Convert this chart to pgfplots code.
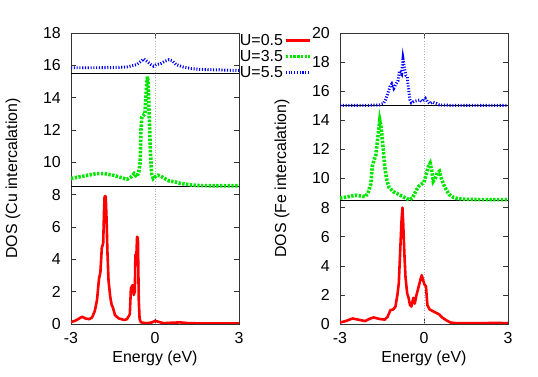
\documentclass[border=0pt]{standalone}
\usepackage{fontspec}
\setmainfont{Liberation Sans}
\usepackage{pgfplots}
\pgfplotsset{compat=1.18}

\newcommand\bigf{\fontsize{16}{19}\selectfont}

\definecolor{gpred}{RGB}{255,0,0}
\definecolor{gpgreen}{RGB}{0,230,0}
\definecolor{gpblue}{RGB}{0,0,255}

\pgfplotsset{
  dospanel/.style={
    scale only axis, width=168bp, height=291bp,
    anchor=south west,
    xmin=-3, xmax=3, ymin=0,
    xtick={-3,0,3}, xticklabels={-3,0,3},
    /pgf/number format/assume math mode=true,
    tick label style={font=\bigf, inner sep=0pt},
    xticklabel style={yshift=-8pt},
    yticklabel style={xshift=-10pt},
    label style={font=\bigf, inner sep=0pt},
    xlabel={Energy (eV)},
    xlabel style={at={(axis description cs:0.5,-0.093)}, anchor=north},
    ylabel style={at={(axis description cs:-0.345,0.5)}, anchor=center},
    axis line style={black!80, line width=0.8pt},
    major tick length=5pt,
    tick style={black!80, line width=0.6pt},
    clip=true,
  },
  r05/.style={gpred, line width=2.6pt, line join=round},
  g35/.style={gpgreen, line width=3.6pt, dash pattern=on 2.4pt off 1.4pt},
  b55/.style={gpblue, line width=3pt, dash pattern=on 1.1pt off 1.7pt},
  sep/.style={black, line width=0.7pt, forget plot},
  zero/.style={gray!60, dotted, line width=0.6pt, forget plot},
}

\begin{document}
\begin{tikzpicture}

% left panel: Cu intercalation
\begin{axis}[dospanel, at={(71bp,53bp)},
    ymax=18, ytick={0,2,...,18},
    ylabel={DOS (Cu intercalation)},
    legend plot pos=right,
    legend image code/.code={\draw[#1] (0cm,0cm) -- (0.85cm,0cm);},
    legend style={draw=none, fill=none, at={(1,1)}, anchor=north west,
      inner sep=0pt, outer sep=0pt, row sep=1.5pt,
      nodes={inner sep=1pt, font=\bigf},
      /tikz/every even column/.append style={column sep=3pt}},
  ]
  \addplot[zero] coordinates {(0,0) (0,18)};
  \addplot[sep] coordinates {(-3,8.5) (3,8.5)};
  \addplot[sep] coordinates {(-3,15.5) (3,15.5)};

  \addplot[r05] coordinates {
    (-3,0.12) (-2.85,0.2) (-2.7,0.35) (-2.6,0.45) (-2.5,0.35) (-2.35,0.3)
    (-2.25,0.4) (-2.15,0.8) (-2.07,1.5) (-2.0,2.8) (-1.95,3.2) (-1.9,4.7)
    (-1.85,5.0) (-1.82,7.0) (-1.8,7.9) (-1.76,7.9) (-1.73,6.5) (-1.7,4.5)
    (-1.66,2.7) (-1.6,1.7) (-1.55,1.2) (-1.5,1.0) (-1.43,0.55) (-1.3,0.35)
    (-1.1,0.25) (-1.0,0.3) (-0.9,0.6) (-0.86,2.2) (-0.8,2.4) (-0.76,1.8)
    (-0.72,2.0) (-0.7,4.3) (-0.67,4.0) (-0.64,5.4) (-0.61,5.3) (-0.58,1.5)
    (-0.55,0.3) (-0.5,0.1) (-0.3,0.05) (-0.1,0.1) (0,0.2) (0.1,0.15)
    (0.3,0.05) (0.6,0.08) (0.9,0.1) (1.2,0.05) (2,0.03) (3,0.03)};
  \addlegendentry{U=0.5}

  \addplot[g35] coordinates {
    (-3,9.0) (-2.7,9.1) (-2.4,9.2) (-2.1,9.3) (-1.8,9.3) (-1.5,9.2)
    (-1.2,9.05) (-1.0,8.95) (-0.85,9.1) (-0.75,9.3) (-0.65,9.1) (-0.58,9.4)
    (-0.53,10.0) (-0.5,12.0) (-0.47,12.8) (-0.42,12.9) (-0.36,13.0)
    (-0.31,14.5) (-0.27,15.3) (-0.24,14.8) (-0.2,12.5) (-0.16,10.5)
    (-0.12,9.3) (-0.06,9.0) (0.0,9.1) (0.1,9.2) (0.2,9.15) (0.3,9.05)
    (0.4,8.95) (0.5,8.85) (0.7,8.8) (0.9,8.7) (1.1,8.65) (1.3,8.6)
    (1.6,8.56) (2,8.55) (3,8.55)};
  \addlegendentry{U=3.5}

  \addplot[b55] coordinates {
    (-3,15.85) (-2,15.85) (-1.3,15.87) (-1.0,15.9) (-0.8,15.98) (-0.65,16.05)
    (-0.5,16.25) (-0.4,16.4) (-0.33,16.3) (-0.25,16.2) (-0.15,16.05)
    (-0.05,15.95) (0.05,16.05) (0.2,16.1) (0.35,16.25) (0.5,16.35)
    (0.6,16.3) (0.75,16.05) (1.0,15.9) (1.3,15.8) (1.6,15.75) (2.2,15.72)
    (3,15.68)};
  \addlegendentry{U=5.5}
\end{axis}

% right panel: Fe intercalation
\begin{axis}[dospanel, at={(340bp,53bp)},
    ymax=20, ytick={0,2,...,20},
    ylabel={DOS (Fe intercalation)},
  ]
  \addplot[zero] coordinates {(0,0) (0,20)};
  \addplot[sep] coordinates {(-3,8.5) (3,8.5)};
  \addplot[sep] coordinates {(-3,15) (3,15)};

  \addplot[r05] coordinates {
    (-3,0.1) (-2.8,0.2) (-2.55,0.38) (-2.35,0.3) (-2.1,0.2) (-1.95,0.35)
    (-1.8,0.45) (-1.6,0.35) (-1.4,0.3) (-1.3,0.5) (-1.2,0.95) (-1.1,1.0)
    (-1.02,1.2) (-0.95,2.0) (-0.9,2.8) (-0.85,5.0) (-0.8,7.2) (-0.77,8.0)
    (-0.74,6.8) (-0.7,4.8) (-0.66,3.2) (-0.6,2.1) (-0.55,1.8) (-0.5,1.3)
    (-0.45,1.2) (-0.38,1.8) (-0.33,1.4) (-0.28,1.9) (-0.2,2.5) (-0.12,3.1)
    (-0.08,3.35) (-0.03,3.0) (0.02,2.7) (0.07,2.6) (0.12,1.3) (0.2,1.0)
    (0.3,0.9) (0.45,0.75) (0.55,0.65) (0.65,0.45) (0.8,0.25) (0.95,0.1)
    (1.2,0.05) (2,0.05) (2.6,0.08) (3,0.05)};

  \addplot[g35] coordinates {
    (-3,8.65) (-2.7,8.75) (-2.45,8.85) (-2.25,8.8) (-2.1,8.75) (-2.0,9.0)
    (-1.9,9.6) (-1.85,10.8) (-1.78,11.3) (-1.72,11.6) (-1.65,12.8)
    (-1.58,14.0) (-1.53,13.5) (-1.47,12.3) (-1.4,10.8) (-1.33,9.9)
    (-1.25,9.4) (-1.1,9.1) (-0.95,8.95) (-0.8,8.8) (-0.6,8.6) (-0.5,8.55)
    (-0.4,8.7) (-0.3,9.1) (-0.2,9.45) (-0.1,9.6) (0.0,9.75) (0.08,10.3)
    (0.15,10.8) (0.22,11.05) (0.28,10.5) (0.33,9.8) (0.4,10.0) (0.48,10.4)
    (0.55,10.5) (0.62,10.0) (0.7,9.6) (0.8,9.2) (0.9,8.9) (1.05,8.7)
    (1.2,8.62) (1.5,8.57) (2,8.55) (3,8.55)};

  \addplot[b55] coordinates {
    (-3,15.03) (-2,15.03) (-1.6,15.05) (-1.45,15.15) (-1.38,15.4)
    (-1.3,15.8) (-1.22,16.3) (-1.15,16.5) (-1.08,16.2) (-1.0,16.5)
    (-0.93,16.7) (-0.87,17.4) (-0.8,17.2) (-0.75,18.2) (-0.7,17.6)
    (-0.65,17.1) (-0.6,17.0) (-0.56,16.3) (-0.5,15.4) (-0.45,15.2)
    (-0.35,15.3) (-0.25,15.35) (-0.15,15.4) (-0.08,15.3) (0.0,15.4)
    (0.05,15.5) (0.12,15.3) (0.2,15.15) (0.3,15.25) (0.45,15.15)
    (0.55,15.05) (1,15.03) (3,15.03)};
\end{axis}

\pgfresetboundingbox
\path[use as bounding box] (0,0) rectangle (538bp,377bp);
\end{tikzpicture}
\end{document}
